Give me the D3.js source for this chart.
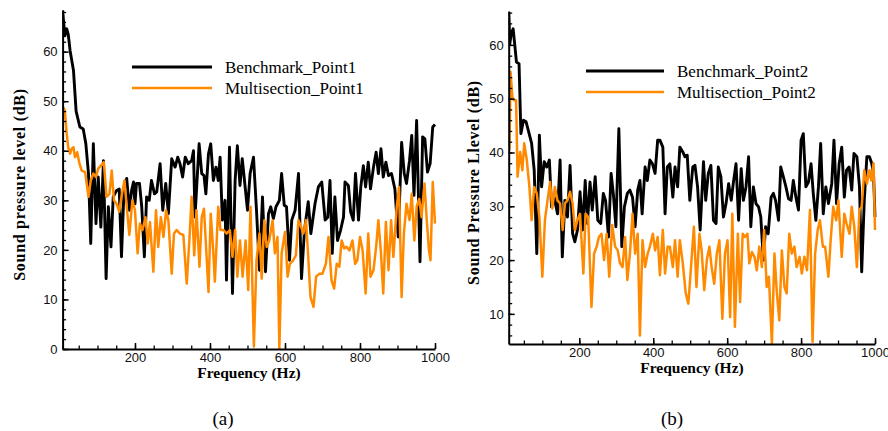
<!DOCTYPE html>
<html>
<head>
<meta charset="utf-8">
<script src="https://cdn.jsdelivr.net/npm/d3@7"></script>
<style>
    body { margin: 0; background: #fff; }
    svg { display: block; }
    .tick text { font-family: "Liberation Sans", Arial, sans-serif; font-size: 13px; fill: #111; }
    .axis-title { font-family: "Liberation Serif", "Times New Roman", serif; font-size: 15.5px; font-weight: bold; }
    .axis-title.vertical { font-size: 16px; letter-spacing: 0.7px; }
    .legend-text { font-family: "Liberation Serif", "Times New Roman", serif; font-size: 17px; }
    .caption { font-family: "Liberation Serif", "Times New Roman", serif; font-size: 19px; }
</style>
</head>
<body>
<svg id="chart" width="888" height="431"></svg>
<script>
// panel (a): point 1
const bench1Freq = [7,13,18,22,27,36,43,53,62,69,76,82,89,96,102,109,116,123,129,136,142,151,158,164,171,178,185,191,196,200,204,212,218,225,231,238,244,252,258,267,274,282,289,298,307,314,320,327,334,342,351,356,360,371,378,384,389,396,402,409,416,422,427,433,440,444,452,460,467,473,480,486,492,500,507,516,524,532,540,548,556,562,569,576,585,591,598,604,612,618,627,636,644,652,662,669,680,689,698,707,714,720,726,733,740,748,756,760,769,775,782,788,796,802,809,815,822,828,836,843,849,856,862,869,876,884,893,902,911,918,924,932,938,944,951,960,967,973,980,987,994,1000];
const bench1Db = [68.3,63.2,64.6,63.5,60.2,56.2,48,44.8,44.4,41.4,35.4,21.3,41.4,25.3,34.7,24.6,38,14.2,28.7,20.6,30.7,32,32.3,18.6,32.6,34.4,28,32,33.7,29.3,33.4,33.4,28.7,18.6,30.7,30,34,31.3,31.7,37.4,28,33.4,27.3,38.4,36.7,38.7,37.4,34.7,38.7,37.4,38,40,26.6,41.4,35.4,35,31.3,39.4,41.4,34,36.7,34,38.7,26,30,13.9,40.7,11.2,34,41,33,38.4,34,28,35.4,38.7,28,15.9,30.7,15.6,27.3,28.7,26.3,28.7,30,35.4,29,28.7,17.9,26,28,35.4,14.2,24,29.7,23.3,29.3,32.7,33.7,26,26.6,34,19.3,30.7,21.9,23.9,26.6,33.7,33,27.7,26,35.4,26,32.6,37,32.7,37.7,32.3,36.7,39.7,35.4,40.4,34.7,37.7,35,35.4,32.3,22.6,41.7,35.4,33.4,38,43.1,31,46.1,17.6,42.8,42.4,35.7,37.4,44.8,45.3];
const multi1Freq = [9,13,18,22,27,31,36,40,46,52,58,67,76,82,89,96,102,109,117,124,132,138,144,151,158,164,172,178,185,193,200,207,213,220,228,234,240,249,256,262,269,276,283,289,298,304,311,320,329,338,345,351,358,364,372,378,384,391,396,402,409,413,422,428,436,444,453,460,467,473,480,487,495,502,508,517,524,532,538,545,551,558,567,573,580,585,591,600,607,613,622,629,636,643,649,656,662,668,676,683,692,700,709,716,724,731,738,745,751,758,764,772,780,787,793,800,807,815,822,828,836,843,849,856,862,869,876,883,889,898,904,911,917,924,932,938,945,951,958,964,972,978,984,988,994,1000];
const multi1Db = [48.8,48.1,43.4,40.7,39.4,40.4,40.7,38.7,39.7,37.4,36,35.7,30.7,34,35.4,34.7,36.4,37,37.7,30.7,31.3,36,30,29.3,27.7,30.7,34,28.7,23,30,28,19.3,25.3,24,26.6,21.3,25.6,15.6,28,20.6,26.6,22.6,28,26,15.2,23.3,24,23.3,23,13.2,21.9,30.7,18.9,28,16.6,26.6,28.3,18.6,11.5,27.3,19.3,13.6,28.7,24,24,23.3,24,18.6,24,14.6,21.9,14.6,21.9,11.9,28.7,0.5,17.9,23.3,14.2,26,20.6,21.9,26,19.3,22.6,0.1,19.3,23.6,14.6,17.2,17.9,18.9,26,24.6,23.3,26,18.6,10.5,8.5,14.6,15.2,15.2,17.2,22.6,13.9,12.2,17.2,16.6,21.9,20.3,20.6,19.9,21.9,17.2,17.9,22.6,19.9,11.2,23.3,14.6,15.9,20.6,26,19.3,11.2,25.6,15.9,26,18.6,28.7,32.7,10.5,23.3,29.3,26,31.3,21.9,28.7,30.3,26.6,33.4,26,19.9,17.9,33.7,25.3];

// panel (b): point 2
const bench2Freq = [9,12,16,21,26,30,37,42,49,56,62,71,78,85,92,98,105,112,119,125,132,141,148,154,161,168,175,182,188,195,202,209,216,222,229,235,243,250,258,265,271,279,286,292,299,307,315,322,330,337,344,351,358,364,370,378,384,391,398,405,412,418,426,432,438,445,453,459,466,472,480,486,492,499,507,513,520,527,536,542,549,556,563,570,576,583,590,597,604,611,617,624,631,638,644,651,658,664,671,678,685,691,698,704,711,719,725,731,739,745,752,759,766,773,779,786,793,800,806,813,820,827,833,840,847,853,860,867,874,883,889,896,903,910,917,923,930,937,943,951,958,964,971,978,985,991,996,1000];
const bench2Db = [66.1,60.2,62.1,63,59.6,56.8,56.5,43.5,46,45.7,44.1,41.7,36.7,21.2,43.2,33.6,38.3,37.3,38.6,29.9,31.7,28.6,38.6,20.6,31.1,28,37.6,24.9,23.4,25.6,32.7,25.6,34.8,26.8,34.5,29.3,35.5,27.4,26.8,32.4,31.1,24.3,36.1,32.4,26.2,44.4,22.5,29.9,32.4,33,31.7,26.2,33,34.8,28.6,37.3,34.8,38.6,37.9,36.1,42.3,42.3,41,28.6,37.3,37.9,31.7,37.3,33.6,41,40.1,39.2,39.5,31.1,37.3,37.6,33.6,25.6,38.3,31.1,36.1,37.6,27.4,26.8,37.3,35.5,28,30.5,34.2,31.1,34.5,37.9,27.4,37,31.1,33.6,39.2,26.2,33.6,30.5,29.9,28,20,26.2,24.9,31.7,32.4,31.1,27.4,37.3,35.5,33.6,31.4,31.1,34.8,31.7,29.3,42.3,43.5,33.6,34.5,37.9,32.4,27.4,33.6,41.7,28.6,33.6,30.5,34.2,42.3,30.5,37.9,41,31.7,36.7,37.3,33,39.8,39.2,33.6,17.8,31.1,39.2,39.2,38,36.1,28];
const multi2Freq = [11,14,19,23,29,33,40,46,51,58,65,71,78,85,92,100,107,114,121,127,134,141,148,155,161,168,175,182,188,195,202,211,217,224,233,240,247,253,260,267,274,281,289,297,304,310,317,324,330,337,344,351,358,364,371,378,385,391,399,405,412,418,426,432,439,445,453,459,466,472,480,488,495,501,510,517,525,531,538,545,552,558,565,572,579,587,594,601,608,614,621,629,635,642,648,655,660,667,674,680,687,694,700,707,713,721,728,734,741,748,755,761,768,775,782,788,796,802,809,816,824,831,838,845,851,859,865,874,880,887,895,901,910,917,923,931,937,944,951,958,964,971,978,985,990,996,1000];
const multi2Db = [40.4,55,50.3,49.7,49.7,35.5,40.1,36.7,41.7,38.6,33.6,27.4,33.6,32.4,28,16.9,27.4,31.1,34.5,29.6,33.6,31.1,30.5,25.6,30.5,31.1,32.7,30.5,25.6,27.4,28.6,17.5,28.6,28,11.3,21.2,22.5,24.3,24.9,20,24.9,16.9,26.5,22.5,21.8,19.4,18.7,24.3,16.3,21.2,28.6,21.2,24.9,6,23.7,18.7,21.2,22.5,24.9,21.8,24.3,17.2,25.6,17.5,22.5,22.5,18.7,23.7,16.9,23.7,19.4,13.8,11.9,17.5,26.2,15,24.9,21.8,14.4,20,22.5,18.7,15.6,21.2,23.7,9.1,21.2,23.7,9.4,28.6,7.6,24.9,12.2,24.9,24.3,24.9,19.4,21.5,20.6,18.1,22.5,18.7,25.6,15,16.9,4.5,21.2,14.4,8.8,21.8,15,13.8,24.9,21.2,22.5,18.7,20.6,17.5,20.6,18.1,29.3,4.8,21.2,25.6,27.4,22.5,22.5,16.9,23.7,29.9,27.4,31.1,20.6,28.6,26.8,24.9,29.9,26.2,18.7,29.3,29.9,36.7,34.2,36.7,34.8,38,25.6];

const majorFreqTicks = [200, 400, 600, 800, 1000];
const seriesColors = {bench: "#000000", multi: "#ff8a00"};

const panels = [
    {
        id: "a",
        xRange: [62.6, 435], yRange: [349, 10],
        xDomain: [7, 1000], yDomain: [0, 68.4],
        yTitle: "Sound pressure level (dB)", titleX: 20, xTitleX: 249,
        legendX: 132, legendY: 67, legendLen: 80,
        captionX: 223, caption: "(a)",
        series: [
            {name: "Benchmark_Point1", freq: bench1Freq, db: bench1Db, color: seriesColors.bench, width: 2.9},
            {name: "Multisection_Point1", freq: multi1Freq, db: multi1Db, color: seriesColors.multi, width: 2.5}
        ]
    },
    {
        id: "b",
        xRange: [508.7, 875], yRange: [344, 11],
        xDomain: [9, 1000], yDomain: [4.4, 66.3],
        yTitle: "Sound Pressure Llevel (dB)", titleX: 474, xTitleX: 692,
        legendX: 586, legendY: 71, legendLen: 78,
        captionX: 672, caption: "(b)",
        series: [
            {name: "Benchmark_Point2", freq: bench2Freq, db: bench2Db, color: seriesColors.bench, width: 2.9},
            {name: "Multisection_Point2", freq: multi2Freq, db: multi2Db, color: seriesColors.multi, width: 2.5}
        ]
    }
];

const svg = d3.select("#chart");

function drawPanel(p) {
    const g = svg.append("g").attr("class", "panel-" + p.id);
    const x = d3.scaleLinear().domain(p.xDomain).range(p.xRange);
    const y = d3.scaleLinear().domain(p.yDomain).range(p.yRange);
    const bottom = p.yRange[0], left = p.xRange[0];

    g.append("clipPath").attr("id", "clip-" + p.id)
        .append("rect")
        .attr("x", p.xRange[0]).attr("y", p.yRange[1])
        .attr("width", p.xRange[1] - p.xRange[0] + 2)
        .attr("height", p.yRange[0] - p.yRange[1]);

    // lines
    const line = d3.line().x(d => x(d[0])).y(d => y(d[1]));
    p.series.forEach(s => {
        g.append("path")
            .datum(d3.zip(s.freq, s.db))
            .attr("clip-path", `url(#clip-${p.id})`)
            .attr("fill", "none")
            .attr("stroke", s.color)
            .attr("stroke-width", s.width)
            .attr("stroke-linejoin", "round")
            .attr("d", line);
    });

    // minor ticks
    const minorY = d3.range(Math.ceil(p.yDomain[0] / 2) * 2, p.yDomain[1], 2);
    g.append("g")
        .attr("transform", `translate(${left},0)`)
        .call(d3.axisLeft(y).tickValues(minorY).tickSizeInner(-3.5).tickSizeOuter(0).tickFormat(""))
        .call(a => a.select(".domain").remove())
        .selectAll("line").attr("stroke-width", 1.3);
    g.append("g")
        .attr("transform", `translate(0,${bottom})`)
        .call(d3.axisBottom(x).tickValues(d3.range(50, 1001, 50)).tickSizeInner(-3.5).tickSizeOuter(0).tickFormat(""))
        .call(a => a.select(".domain").remove())
        .selectAll("line").attr("stroke-width", 1.3);

    // major ticks and labels
    const majorY = d3.range(Math.ceil(p.yDomain[0] / 10) * 10, p.yDomain[1], 10);
    const yAxis = g.append("g")
        .attr("transform", `translate(${left},0)`)
        .call(d3.axisLeft(y).tickValues(majorY).tickSizeInner(-6).tickSizeOuter(0).tickPadding(5).tickFormat(d3.format("d")));
    const xAxis = g.append("g")
        .attr("transform", `translate(0,${bottom})`)
        .call(d3.axisBottom(x).tickValues(majorFreqTicks).tickSizeInner(-6).tickSizeOuter(0).tickPadding(4).tickFormat(d3.format("d")));
    [yAxis, xAxis].forEach(a => {
        a.select(".domain").attr("stroke-width", 2);
        a.selectAll(".tick line").attr("stroke-width", 1.5);
    });

    // titles
    g.append("text")
        .attr("class", "axis-title")
        .attr("x", p.xTitleX).attr("y", bottom + 29)
        .attr("text-anchor", "middle")
        .text("Frequency (Hz)");
    g.append("text")
        .attr("class", "axis-title vertical")
        .attr("transform", `translate(${p.titleX + 5},${(p.yRange[0] + p.yRange[1]) / 2 + 5}) rotate(-90)`)
        .attr("text-anchor", "middle")
        .text(p.yTitle);

    // legend
    p.series.forEach((s, i) => {
        const ly = p.legendY + i * 21;
        g.append("line")
            .attr("x1", p.legendX).attr("x2", p.legendX + p.legendLen)
            .attr("y1", ly).attr("y2", ly)
            .attr("stroke", s.color)
            .attr("stroke-width", s.width);
        g.append("text")
            .attr("class", "legend-text")
            .attr("x", p.legendX + p.legendLen + 13)
            .attr("y", ly + 5.5)
            .text(s.name);
    });

    g.append("text")
        .attr("class", "caption")
        .attr("x", p.captionX).attr("y", 425)
        .attr("text-anchor", "middle")
        .text(p.caption);
}

panels.forEach(drawPanel);
</script>
</body>
</html>
